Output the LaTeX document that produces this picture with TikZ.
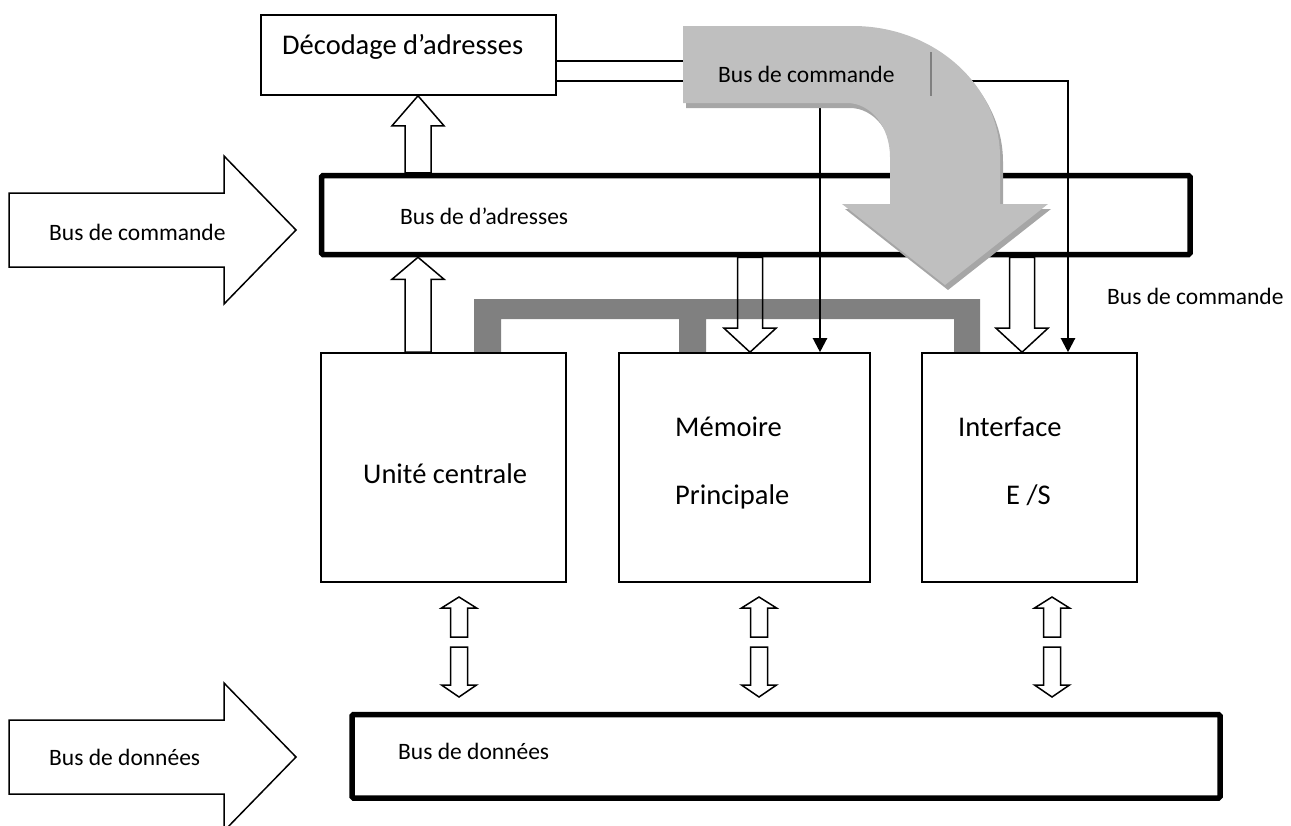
\documentclass[tikz,border=0pt]{standalone}
\usepackage{fontspec}
\setmainfont{Carlito}
\usetikzlibrary{arrows.meta, calc}
\definecolor{busgray}{HTML}{808080}
\definecolor{cmdgray}{HTML}{BFBFBF}
\definecolor{cmdshadow}{HTML}{A6A6A6}
\tikzset{
  box/.style={draw, line width=1.6pt, inner sep=0pt},
  busbox/.style={draw, line width=5.5pt, rounded corners=1.5pt, inner sep=0pt},
  txt/.style={inner sep=0pt, anchor=base west, font=\fontsize{28.5}{34}\selectfont},
  lbl/.style={inner sep=0pt, anchor=base west, font=\fontsize{23.5}{28}\selectfont},
  hollow/.style={draw, line width=1.5pt, line join=miter},
  ctl/.style={line width=2.2pt, -{Triangle[length=14pt, width=14pt]}},
  bigarrow/.style={draw, line width=1.5pt, fill=white}
}
\newcommand{\hollowarrow}[5]{%
  \coordinate (hb) at ($(#2)!#5!(#1)$);
  \draw[hollow] ($(#1)!#3!90:(#2)$) -- ($(hb)!#3!90:(#2)$) -- ($(hb)!#4!90:(#2)$) -- (#2)
    -- ($(hb)!#4!-90:(#2)$) -- ($(hb)!#3!-90:(#2)$) -- ($(#1)!#3!-90:(#2)$) -- cycle;
}

\begin{document}
\begin{tikzpicture}[x=1pt, y=-1pt]
\useasboundingbox (0,0) rectangle (1291,825);

\fill[busgray] (474,353) -- (474,299) -- (980,299) -- (980,353) -- (954,353) -- (954,319)
  -- (706,319) -- (706,353) -- (679,353) -- (679,319) -- (501,319) -- (501,353) -- cycle;

\node[box, minimum width=295pt, minimum height=80pt] (dec) at (408.5,55) {};
\node[busbox, minimum width=868.5pt, minimum height=79pt] (abus) at (755.75,215) {};
\node[box, minimum width=245pt, minimum height=229pt] (uc) at (443.5,467.5) {};
\node[box, minimum width=251pt, minimum height=229pt] (mem) at (744.5,467.5) {};
\node[box, minimum width=215pt, minimum height=229pt] (io) at (1029.5,467.5) {};
\node[busbox, minimum width=868pt, minimum height=83.5pt] (dbus) at (786,756.25) {};

\node[txt] (tdec) at (282,54) {Décodage d’adresses};
\node[lbl] (tabus) at (400,224) {Bus de d’adresses};
\node[txt] (tuc) at (363,483) {Unité centrale};
\node[txt] (tmem1) at (675,436) {Mémoire};
\node[txt] (tmem2) at (675,504) {Principale};
\node[txt] (tio1) at (958,436) {Interface};
\node[txt] (tio2) at (1006,504) {E /S};
\node[lbl] (tdbus) at (398,759) {Bus de données};
\node[lbl] (tcmd) at (1107,304) {Bus de commande};

\draw[bigarrow] (9,193) -- (224,193) -- (224,156) -- (296,230) -- (224,304) -- (224,267) -- (9,267) -- cycle;
\node[lbl] (tcmdin) at (49,240) {Bus de commande};
\draw[bigarrow] (9,720) -- (224,720) -- (224,683) -- (296,757) -- (224,831) -- (224,794) -- (9,794) -- cycle;
\node[lbl] (tdatain) at (49,765) {Bus de données};

\draw[line width=1.5pt] ([yshift=-6pt]dec.east) -- ++(130,0)
  ([yshift=-26pt]dec.east) -- ++(130,0);

\coordinate (c1) at (820,106);
\coordinate (c2) at (950,81);
\coordinate (c3) at (1068,81);
\draw[ctl] (c1) -- (c1 |- mem.north);
\draw[ctl] (c2) -- (c3) -- (c3 |- io.north);

\begin{scope}[shift={(3,5)}]
\fill[cmdshadow] (683,26) -- (853,26) .. controls (934,26) and (1000,85) .. (1000,157) -- (1000,204)
  -- (1048,204) -- (945,285) -- (842,204) -- (890,204) -- (890,157)
  .. controls (890,127) and (871,103) .. (847,103) -- (683,103) -- cycle;
\end{scope}
\fill[cmdgray] (683,26) -- (853,26) .. controls (934,26) and (1000,85) .. (1000,157) -- (1000,204)
  -- (1048,204) -- (945,285) -- (842,204) -- (890,204) -- (890,157)
  .. controls (890,127) and (871,103) .. (847,103) -- (683,103) -- cycle;
\draw[busgray, line width=1.5pt] (931,52) -- (931,96);
\node[lbl] (tcmdbus) at (718,82) {Bus de commande};

\coordinate (p1) at (418,0);
\coordinate (p2) at (750,0);
\coordinate (p3) at (1022,0);
\coordinate (uc-o) at (p1 |- uc.north);
\coordinate (ab-a) at (p1 |- abus.south);
\coordinate (ab-b) at (p1 |- abus.north);
\coordinate (dec-i) at (p1 |- dec.south);
\coordinate (ab-c) at (p2 |- abus.south);
\coordinate (mem-i) at (p2 |- mem.north);
\coordinate (ab-d) at (p3 |- abus.south);
\coordinate (io-i) at (p3 |- io.north);
\hollowarrow{uc-o}{ab-a}{13pt}{26pt}{22pt}
\hollowarrow{ab-b}{dec-i}{13pt}{26pt}{30pt}
\hollowarrow{ab-c}{mem-i}{12.5pt}{26pt}{24pt}
\hollowarrow{ab-d}{io-i}{12.5pt}{26pt}{24pt}

\foreach \n/\x in {uc/459, mem/759, io/1052} {
  \coordinate (\n-u1) at (\x,637);
  \coordinate (\n-u2) at (\x,597);
  \hollowarrow{\n-u1}{\n-u2}{8.5pt}{17.5pt}{11pt}
  \coordinate (\n-d1) at (\x,647);
  \coordinate (\n-d2) at (\x,697);
  \hollowarrow{\n-d1}{\n-d2}{8.5pt}{17.5pt}{12pt}
}
\end{tikzpicture}
\end{document}
